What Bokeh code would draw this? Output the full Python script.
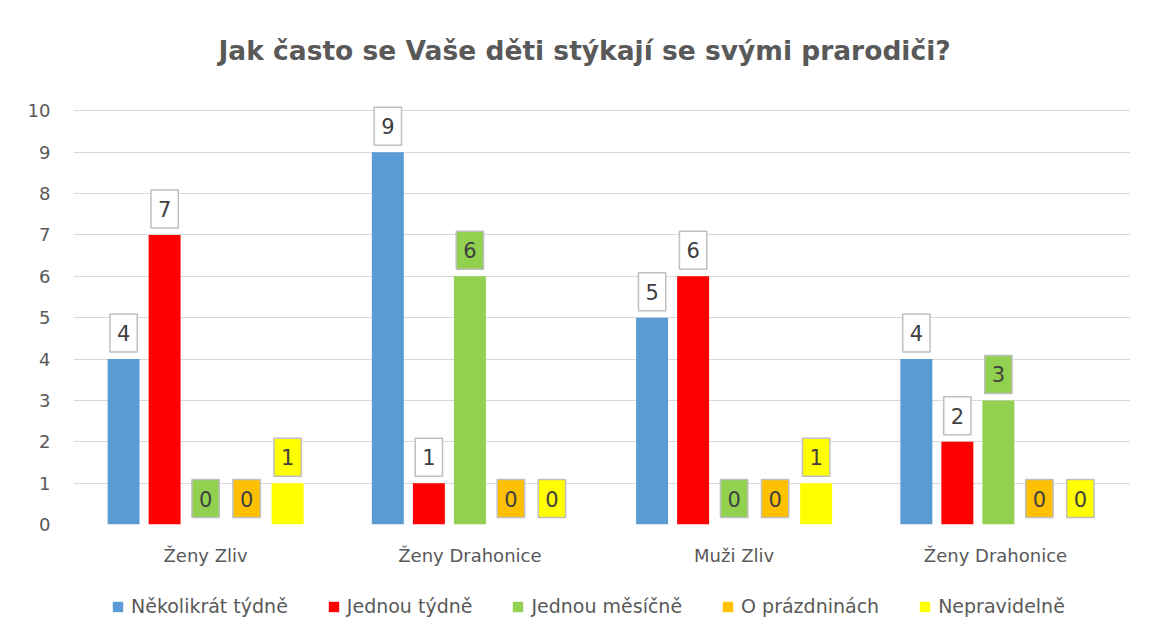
from bokeh.plotting import figure
from bokeh.layouts import column
from bokeh.models import ColumnDataSource, FactorRange, Range1d, FixedTicker, Legend, LegendItem
from bokeh.transform import dodge
from bokeh.core.properties import value
from bokeh.embed import file_html
from bokeh.resources import INLINE

title_text = "Jak často se Vaše děti stýkají se svými prarodiči?"
categories = ["Ženy Zliv", "Ženy Drahonice", "Muži Zliv", "Ženy Drahonice"]
series_names = ["Několikrát týdně", "Jednou týdně", "Jednou měsíčně", "O prázdninách", "Nepravidelně"]
nekolikrat_tydne = [4, 9, 5, 4]
jednou_tydne = [7, 1, 6, 2]
jednou_mesicne = [0, 6, 0, 3]
o_prazdninach = [0, 0, 0, 0]
nepravidelne = [1, 0, 1, 0]
y_ticks = [0, 1, 2, 3, 4, 5, 6, 7, 8, 9, 10]

series_values = [nekolikrat_tydne, jednou_tydne, jednou_mesicne, o_prazdninach, nepravidelne]
colors = ["#5B9BD5", "#FF0000", "#92D050", "#FFC000", "#FFFF00"]
label_fills = ["#FFFFFF", "#FFFFFF", "#92D050", "#FFC000", "#FFFF00"]

# unique factor keys for the duplicate category name
factors = []
for c in categories:
    f = c
    while f in factors:
        f += " "
    factors.append(f)

FONT = "DejaVu Sans"
GRAY = "#595959"

p = figure(
    x_range=FactorRange(factors=factors, range_padding=0),
    y_range=Range1d(0, 10.3),
    width=1155, height=581,
    output_backend="svg", toolbar_location=None,
    min_border_left=73, min_border_right=25, min_border_top=96, min_border_bottom=57,
)
p.outline_line_color = None

p.title.text = title_text
p.title.align = "left"
p.title.offset = 145
p.title.text_font = FONT
p.title.text_font_size = "26.5px"
p.title.text_font_style = "bold"
p.title.text_color = GRAY
p.title.standoff = 65

step = 0.1552
bar_w = 0.121
for i, vals in enumerate(series_values):
    off = (i - 2) * step
    src = ColumnDataSource(dict(cat=factors, val=vals, lbl=[str(v) for v in vals]))
    p.vbar(x=dodge("cat", off, range=p.x_range), top="val", width=bar_w, bottom=0,
           source=src, fill_color=colors[i], line_color=None)
    p.text(x=dodge("cat", off, range=p.x_range), y="val", text="lbl", source=src,
           text_align="center", text_baseline="middle", y_offset=-26,
           text_font=value(FONT), text_font_size="21px", text_color="#404040",
           background_fill_color=label_fills[i], border_line_color="#BFBFBF",
           border_line_width=1.5, padding=dict(x=7, y=11))

p.yaxis.ticker = FixedTicker(ticks=y_ticks)
for ax in (p.xaxis, p.yaxis):
    ax.axis_line_color = None
    ax.major_tick_line_color = None
    ax.minor_tick_line_color = None
    ax.major_label_text_font = FONT
    ax.major_label_text_font_size = "18px"
    ax.major_label_text_color = GRAY
p.yaxis.major_label_standoff = 17
p.xaxis.major_label_standoff = 14

p.xgrid.grid_line_color = None
p.ygrid.grid_line_color = "#D9D9D9"
p.ygrid.grid_line_width = 1

# legend lives in its own strip below the chart
lg = figure(width=1155, height=60, x_range=Range1d(0, 1), y_range=Range1d(0, 1),
            x_axis_type=None, y_axis_type=None, output_backend="svg", toolbar_location=None,
            min_border=0, min_border_left=0, min_border_right=0, min_border_top=0,
            min_border_bottom=0)
lg.outline_line_color = None
lg.grid.visible = False
items = []
for name, col in zip(series_names, colors):
    # zero-height placeholder bar so the legend has a glyph to draw
    r = lg.vbar(x=[0], top=[0], bottom=[0], width=0.01, fill_color=col, line_color=None)
    items.append(LegendItem(label=name, renderers=[r]))
legend = Legend(items=items, orientation="horizontal", location=(38, 24),
                glyph_width=13, glyph_height=13, label_standoff=7, spacing=39,
                padding=0, margin=0, border_line_color=None, background_fill_alpha=0,
                label_text_font=FONT, label_text_font_size="19px", label_text_color=GRAY)
lg.add_layout(legend)

layout = column(p, lg, spacing=0,
                styles={"outline": "1px solid #D9D9D9", "outline-offset": "-8px"})
open("out.html", "w").write(file_html(layout, INLINE))
